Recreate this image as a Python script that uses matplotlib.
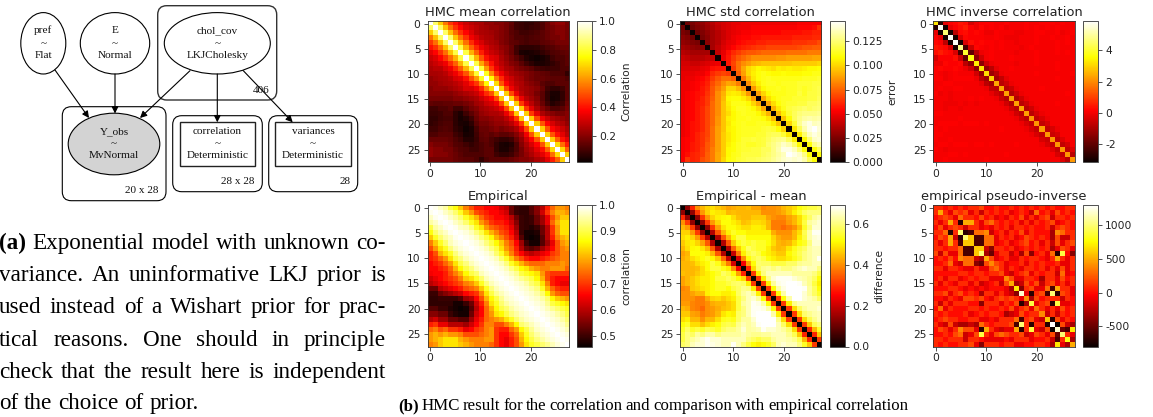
import numpy as np
import matplotlib
matplotlib.use("Agg")
import matplotlib.pyplot as plt
from matplotlib.patches import Ellipse, FancyBboxPatch, Rectangle, FancyArrowPatch

W, H = 1153, 417

mean_upper = [
[100,85,68,55,46,40,34,30,28,26,25,22,22,20,20,18,15,10,9,8,8,10,12,16,20,22,22,18],
[100,85,66,54,45,38,33,30,28,25,24,22,22,20,18,14,10,9,8,9,10,12,16,18,20,20,18],
[100,85,66,54,45,38,33,28,26,25,24,22,20,18,14,12,10,10,11,12,14,16,18,20,20,18],
[100,85,66,54,45,36,32,28,26,25,22,20,18,15,12,12,11,12,13,14,16,18,18,20,18],
[100,85,66,54,44,36,32,28,26,24,20,18,15,14,12,11,12,12,14,15,16,18,18,18],
[100,82,64,52,43,36,32,28,26,22,20,16,10,7,7,7,8,10,12,13,15,16,16],
[100,82,64,52,42,34,30,28,24,20,16,10,5,4,5,6,8,10,12,13,14,15],
[100,82,64,50,40,34,32,26,22,18,14,10,6,4,3,4,6,10,12,12,14],
[100,82,62,50,40,32,28,24,20,18,14,10,7,5,5,6,8,10,12,14],
[100,80,60,46,36,30,26,24,20,18,16,14,11,10,9,10,10,12,12],
[100,78,58,44,36,30,26,24,22,20,18,16,15,14,12,12,12,8],
[100,75,56,44,34,30,26,24,20,18,16,16,15,14,14,14,12],
[100,70,50,38,32,28,26,22,20,18,14,12,12,14,14,14],
[100,68,48,36,30,26,24,22,20,16,10,8,8,10,14],
[100,68,48,35,28,24,22,18,14,8,5,5,8,14],
[100,68,48,35,28,24,20,14,8,4,5,8,14],
[100,68,46,34,28,22,16,10,6,8,10,16],
[100,68,46,34,26,20,16,12,12,14,18],
[100,68,46,34,26,22,20,18,18,20],
[100,68,48,36,30,26,24,22,20],
[100,68,50,38,32,28,26,22],
[100,68,50,38,34,30,26],
[100,68,50,40,34,28],
[100,68,52,40,34],
[100,70,54,42],
[100,70,52],
[100,68],
[100],
]

std_upper = [
[0,22,25,28,30,34,38,42,44,46,48,48,50,50,50,50,50,50,50,50,50,50,50,52,52,52,52,52],
[0,22,26,28,32,36,40,44,46,48,50,50,50,52,52,52,52,52,52,52,52,52,54,54,54,56,64],
[0,22,26,30,34,38,42,46,48,50,52,52,54,54,54,54,54,54,56,56,56,56,58,58,60,60],
[0,24,28,34,38,42,46,50,52,54,54,56,56,58,58,58,58,58,58,60,60,60,60,62,62],
[0,28,34,38,44,48,50,54,56,58,58,60,60,62,62,62,62,62,64,64,64,66,66,70],
[0,34,40,46,50,54,58,60,62,64,66,66,68,68,68,68,68,68,70,72,72,74,74],
[0,40,48,56,62,66,70,72,72,74,76,76,76,76,76,78,78,78,78,80,80,80],
[0,50,58,66,72,76,80,84,84,84,84,84,86,86,88,88,88,88,88,90,90],
[0,58,68,78,84,88,92,94,96,96,96,96,96,96,98,98,98,98,98,100],
[0,66,78,90,100,104,108,106,104,102,106,104,106,104,104,106,108,108,110],
[0,74,88,100,106,110,112,110,108,108,110,108,108,108,110,110,112,112],
[0,80,94,104,110,112,114,112,112,112,112,112,112,114,114,114,116],
[0,84,98,106,112,114,114,112,114,114,114,116,116,116,118,118],
[0,86,100,108,112,112,114,112,114,114,116,114,116,118,120],
[0,88,100,108,112,112,112,114,114,118,114,118,118,120],
[0,90,102,108,112,114,114,116,116,116,118,118,122],
[0,90,102,110,114,116,116,118,118,122,122,124],
[0,92,104,112,118,120,122,124,122,124,126],
[0,94,106,116,122,126,128,128,128,130],
[0,96,110,122,128,132,134,132,134],
[0,100,116,130,138,142,136,138],
[0,104,122,134,142,146,140],
[0,106,124,136,142,138],
[0,108,126,138,140],
[0,110,128,134],
[0,110,122],
[0,110],
[0],
]

inv_upper = [
[32,-28,-2,1,2,4,3,-4,-1,1,1,1,0,0,1,0,0,0,1,0,0,1,1,1,0,1,0,0],
[58,-30,-2,1,3,5,1,-1,2,0,1,0,1,-1,0,0,0,1,0,1,0,1,0,1,0,0,0],
[46,-30,-8,2,3,1,2,1,-1,-1,1,0,0,0,-1,-1,0,0,1,1,0,0,1,-1,0,1],
[58,-30,-4,2,1,1,1,0,0,1,0,-1,-1,-1,0,0,0,1,0,0,1,0,0,1,0],
[58,-30,-4,3,1,2,1,1,0,1,0,0,-1,0,0,0,1,0,0,0,1,0,1,0],
[48,-24,-6,2,1,0,1,0,1,0,0,0,-1,0,1,0,0,0,0,1,0,0,0],
[40,-20,-8,-1,0,1,0,0,0,0,-1,0,0,0,1,0,0,0,1,0,1,0],
[37,-14,-5,0,1,0,0,0,1,0,0,0,0,1,0,0,0,0,0,0,0],
[34,-14,-5,-1,0,0,0,0,-1,0,0,0,1,0,0,0,1,0,0,0],
[33,-13,-8,-2,0,0,1,0,0,0,0,0,0,0,0,1,0,0,0],
[31,-12,-8,-1,0,0,0,0,0,0,1,0,0,0,0,0,0,1],
[30,-11,-7,-2,0,0,0,0,0,0,0,0,0,1,0,0,0],
[24,-8,-5,-1,0,0,0,0,0,0,0,0,0,0,0,0],
[24,-8,-6,-1,0,0,0,0,1,0,0,0,0,0,0],
[23,-9,-5,-1,0,0,0,0,0,0,0,0,1,0],
[23,-9,-5,-1,0,0,0,0,0,0,0,0,0],
[23,-8,-5,-1,0,0,0,0,1,0,0,0],
[24,-8,-5,-1,0,0,0,0,0,0,0],
[23,-8,-4,-1,0,0,0,0,0,0],
[22,-7,-4,-1,0,0,0,0,0],
[22,-7,-4,0,0,0,0,0],
[23,-7,-4,-1,0,0,0],
[22,-6,-4,0,0,0],
[22,-7,-3,0,0],
[22,-7,-4,0],
[22,-7,-3],
[22,-8],
[22],
]

emp_upper = [
[100,99,97,95,90,87,82,76,72,68,68,66,66,65,62,60,54,50,49,49,52,56,60,68,74,78,78,76],
[100,99,97,95,92,88,82,78,72,70,68,66,66,64,62,54,50,49,49,52,56,62,70,76,80,80,78],
[100,99,97,95,92,88,84,80,74,70,68,66,66,64,60,54,50,49,50,54,58,64,72,78,82,82],
[100,99,97,95,92,88,84,78,74,70,68,68,66,62,56,50,49,50,54,58,64,74,80,84,84],
[100,99,97,96,93,88,84,78,74,72,70,68,64,58,50,49,48,50,54,60,70,78,84,84],
[100,99,98,96,93,90,84,80,76,72,70,66,60,50,47,47,48,54,60,70,78,84,84],
[100,99,98,96,93,90,86,80,76,72,68,62,52,47,46,47,52,60,68,76,80,82],
[100,99,98,96,93,90,86,82,76,72,66,58,50,47,47,52,58,64,72,78,80],
[100,99,98,96,93,90,84,78,74,68,60,54,52,54,58,62,66,72,76,78],
[100,99,98,96,92,88,82,76,70,66,62,60,62,64,66,70,72,76,76],
[100,99,98,96,92,88,82,76,72,68,66,66,68,70,72,74,76,76],
[100,99,98,96,93,88,84,80,76,74,74,74,76,76,76,78,76],
[100,99,98,96,93,90,86,84,80,78,76,76,78,78,78,74],
[100,99,98,96,94,90,88,86,84,78,72,70,70,70,70],
[100,99,98,96,94,92,90,86,80,72,68,66,66,66],
[100,99,98,97,95,92,90,84,76,68,66,64,64],
[100,99,98,97,95,93,88,80,74,70,68,68],
[100,99,98,97,95,92,86,78,74,72,72],
[100,99,98,97,95,92,86,82,80,78],
[100,99,98,97,94,90,88,86,84],
[100,99,98,96,94,92,90,88],
[100,99,98,97,95,93,90],
[100,99,98,97,95,92],
[100,99,98,97,94],
[100,99,98,96],
[100,99,98],
[100,99],
[100],
]

pinv_upper = [
[1,1,0,1,0,1,0,1,1,2,0,0,1,0,0,1,0,1,0,1,0,1,0,1,0,0,1,1],
[5,1,-1,2,1,2,-1,1,-2,1,0,1,0,1,-1,0,1,0,-2,3,0,1,-1,2,0,1,0],
[2,1,-1,3,1,1,0,2,0,1,-1,0,-1,1,0,2,-1,1,-1,1,2,-2,1,1,0,1],
[5,1,-7,5,5,1,-1,2,3,1,0,1,0,1,-1,1,-1,1,0,1,2,-1,0,1,0],
[2,1,-2,1,1,-1,0,-1,1,0,1,-1,1,1,0,1,0,0,1,-2,1,2,1,0],
[10,-7,-6,3,3,4,-2,0,1,-1,1,0,2,-1,1,0,0,0,-3,4,3,1,1],
[10,6,-6,-6,3,3,-1,1,0,1,-1,0,2,1,0,1,0,-3,2,-2,-2,1],
[6,-6,-6,3,3,-1,0,1,-1,0,1,2,0,1,-1,1,-2,2,-1,1,2],
[6,6,-2,-4,1,1,0,1,-1,0,1,0,1,0,1,-3,-1,2,1,-1],
[10,-3,-5,-1,1,1,-2,0,-3,2,-4,0,1,-1,3,-7,9,0,-4],
[5,2,-1,0,1,-1,-1,1,0,1,1,0,-1,1,5,1,-1,1],
[4,2,1,-1,0,0,1,-1,1,0,1,0,0,1,-1,-1,1],
[3,1,-1,1,0,-1,1,1,0,1,-1,1,-1,2,-1,1],
[2,-1,-2,0,1,2,-1,1,0,1,1,-2,3,-1,0],
[4,2,-1,-1,1,1,0,-3,1,1,-1,2,0,1],
[5,-3,-2,2,0,2,-2,1,2,-1,1,-1,1],
[7,-4,1,2,-1,-1,3,-6,5,1,1,-1],
[12,-1,-7,1,2,-6,10,-7,2,1,-1],
[4,-3,2,0,1,1,1,-2,1,0],
[9,-1,1,2,-7,9,-1,-1,0],
[3,1,-1,1,-1,2,0,1],
[4,-2,1,-2,1,0,1],
[6,-7,2,-1,1,0],
[13,-8,2,-2,-3],
[12,-5,-6,7],
[10,1,-1],
[8,-3],
[5],
]


def symmetric(rows, unit):
    n = len(rows)
    m = np.zeros((n, n))
    for i, row in enumerate(rows):
        m[i, i:] = row
        m[i:, i] = row
    return m * unit


mean_corr = symmetric(mean_upper, 0.01)
std_corr = symmetric(std_upper, 0.001)
inv_corr = symmetric(inv_upper, 0.1)
emp_corr = symmetric(emp_upper, 0.01)
emp_diff = emp_corr - mean_corr
pinv_corr = symmetric(pinv_upper, 100.0)

plt.rcParams["font.family"] = "DejaVu Sans"
fig = plt.figure(figsize=(W / 100, H / 100), dpi=100)
bg = fig.add_axes([0, 0, 1, 1], zorder=0)
bg.set_xlim(0, W)
bg.set_ylim(H, 0)
bg.axis("off")


def box(x0, y0, x1, y1):
    return [x0 / W, 1 - y1 / H, (x1 - x0) / W, (y1 - y0) / H]


panels = [
    (mean_corr, "HMC mean correlation", "Correlation", 0.02, 1.0, [0.2, 0.4, 0.6, 0.8, 1.0], None, 427.5, 21),
    (std_corr, "HMC std correlation", "error", 0, 0.146, [0, 0.025, 0.05, 0.075, 0.1, 0.125], "%.3f", 680.3, 21),
    (inv_corr, "HMC inverse correlation", "", -3.2, 5.9, [-2, 0, 2, 4], "%d", 933.3, 21),
    (emp_corr, "Empirical", "correlation", 0.46, 1.0, [0.5, 0.6, 0.7, 0.8, 0.9, 1.0], None, 427.5, 205.3),
    (emp_diff, "Empirical - mean", "difference", 0, 0.69, [0, 0.2, 0.4, 0.6], None, 680.3, 205.3),
    (pinv_corr, "empirical pseudo-inverse", "", -800, 1300, [-500, 0, 500, 1000], "%d", 933.3, 205.3),
]
tick_fs, title_fs = 7.7, 9.4
edge = "#333333"
for data, title, label, vmin, vmax, cticks, fmt, px, py in panels:
    ax = fig.add_axes(box(px, py, px + 141.2, py + 141.2), zorder=2)
    im = ax.imshow(data, cmap="hot", vmin=vmin, vmax=vmax, aspect="auto", interpolation="nearest")
    ax.set_xticks([0, 10, 20])
    ax.set_yticks([0, 5, 10, 15, 20, 25])
    ax.tick_params(labelsize=tick_fs, length=2.6, width=0.6, pad=2.4, color=edge, labelcolor="#222222")
    ax.set_title(title, fontsize=title_fs, pad=3.8, color="#222222")
    for s in ax.spines.values():
        s.set_linewidth(0.6)
        s.set_color(edge)
    cx0 = px + 149.2
    cax = fig.add_axes(box(cx0, py, cx0 + 15.6, py + 141.2), zorder=2)
    cb = fig.colorbar(im, cax=cax, ticks=cticks, format=fmt)
    cb.ax.tick_params(labelsize=tick_fs, length=2.6, width=0.6, pad=2.4, color=edge, labelcolor="#222222")
    cb.outline.set_linewidth(0.6)
    cb.outline.set_edgecolor(edge)
    if label:
        cb.set_label(label, fontsize=tick_fs, labelpad=3.5, color="#222222")

# Model graph on the left
SERIF = "Liberation Serif"
GF = 8.1


def plate(x0, y0, x1, y1, color="black", lw=0.8):
    bg.add_patch(FancyBboxPatch((x0, y0), x1 - x0, y1 - y0,
                                boxstyle="round,pad=0,rounding_size=9",
                                fc="none", ec=color, lw=lw, zorder=1))


def node_text(cx, cy, top, bottom):
    for t, dy in ((top, -12.7), ("~", 0), (bottom, 12)):
        bg.text(cx, cy + dy, t, family=SERIF, fontsize=GF, ha="center", va="center", color="#111111", zorder=4)


def ellipse(cx, cy, rx, ry, fc="white"):
    bg.add_patch(Ellipse((cx, cy), 2 * rx, 2 * ry, fc=fc, ec="black", lw=0.8, zorder=2))


def arrow(p, q):
    bg.add_patch(FancyArrowPatch(p, q, arrowstyle="-|>", mutation_scale=10, shrinkA=0, shrinkB=0,
                                 color="black", lw=0.8, zorder=3))


plate(157.7, 5.7, 276.7, 100, color="#333333", lw=1.0)
plate(62.3, 106.7, 166, 200.7)
plate(172.7, 115.7, 262.3, 191.7)
plate(268.7, 115.7, 357.7, 191.7)
ellipse(43.3, 43.3, 22.5, 30.7)
ellipse(115, 43.3, 34.7, 30.7)
ellipse(217.3, 43.3, 53, 30.7)
ellipse(114, 144, 45.8, 30.8, fc="#d3d3d3")
for x0, x1 in ((179.7, 255.3), (275.3, 351)):
    bg.add_patch(Rectangle((x0, 122.3), x1 - x0, 43.7, fc="white", ec="#222222", lw=1.0, zorder=2))
node_text(43.3, 43.3, "pref", "Flat")
node_text(115, 43.3, "E", "Normal")
node_text(217.3, 43.3, "chol_cov", "LKJCholesky")
node_text(114, 144, "Y_obs", "MvNormal")
node_text(217.3, 144, "correlation", "Deterministic")
node_text(313, 144, "variances", "Deterministic")
for x, y, t in ((261, 90, "406"), (142, 190, "20 x 28"), (237.7, 181, "28 x 28"), (345, 181, "28")):
    bg.text(x, y, t, family=SERIF, fontsize=GF, ha="center", va="center", color="#111111", zorder=4)
arrow((55, 70), (89, 118))
arrow((115, 74), (115, 113.5))
arrow((190, 70.7), (140, 118))
arrow((217.3, 74), (217.3, 122.3))
arrow((243.3, 70.7), (292.7, 122.3))

# Captions, set justified by measuring each word
rend = fig.canvas.get_renderer()
CF = 16.7


def line(words, x0, x1, y, fs=CF):
    arts = []
    for w in words:
        bold = w in ("(a)", "(b)")
        arts.append(bg.text(0, y, w, family=SERIF, fontsize=fs, va="baseline", ha="left",
                            weight="bold" if bold else "normal", color="black", zorder=4))
    widths = [a.get_window_extent(rend).width for a in arts]
    if x1 is None:
        gap = 0.25 * fs * 100 / 72
    else:
        gap = (x1 - x0 - sum(widths)) / max(len(words) - 1, 1)
    x = x0
    for a, wd in zip(arts, widths):
        a.set_x(x)
        x += wd + gap


caption_a = [
    ("(a) Exponential model with unknown co-", 386, 249),
    ("variance. An uninformative LKJ prior is", 386, 281),
    ("used instead of a Wishart prior for prac-", 386, 313),
    ("tical reasons. One should in principle", 386, 346),
    ("check that the result here is independent", 386, 378),
    ("of the choice of prior.", None, 409),
]
for text, x1, y in caption_a:
    line(text.split(), -1, x1, y)
line("(b) HMC result for the correlation and comparison with empirical correlation".split(),
     398, 908, 410, fs=12.2)

fig.savefig("out.png", dpi=100)
